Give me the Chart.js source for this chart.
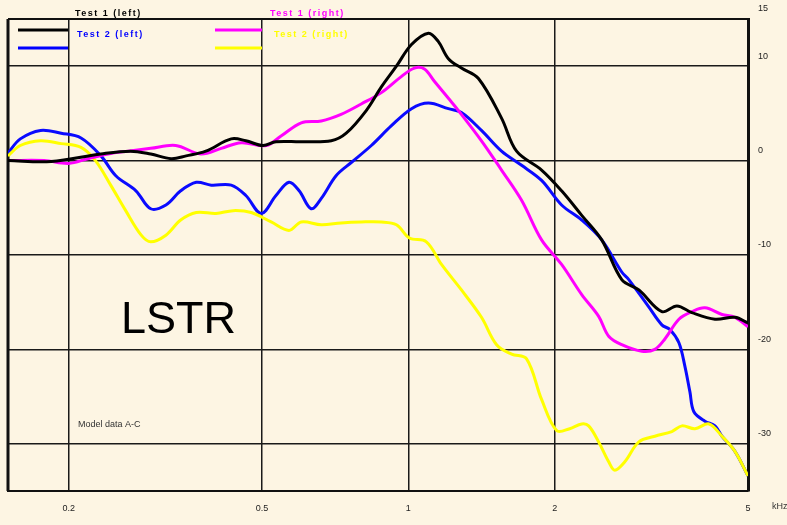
<!DOCTYPE html>
<html>
<head>
<meta charset="utf-8">
<script src="https://cdn.jsdelivr.net/npm/chart.js@4.4.1/dist/chart.umd.min.js"></script>
<style>
  html, body { margin: 0; padding: 0; background: #fdf5e3; }
  #wrap { width: 787px; height: 525px; position: relative; }
</style>
</head>
<body>
<div id="wrap"><canvas id="chart"></canvas></div>
<script>
// frequency (kHz) and level (dB)
const blackKHz = [0.150, 0.184, 0.233, 0.268, 0.295, 0.325, 0.349, 0.383, 0.432, 0.463, 0.502, 0.534, 0.602, 0.694, 0.745, 0.819, 0.880, 0.945, 1.015, 1.100, 1.153, 1.209, 1.286, 1.394, 1.555, 1.670, 1.880, 2.067, 2.274, 2.500, 2.749, 2.981, 3.324, 3.570, 3.833, 4.276, 4.700, 5.0];
const blackDb  = [0.0, -0.1, 0.7, 1.0, 0.7, 0.2, 0.5, 1.0, 2.3, 2.1, 1.6, 2.0, 2.0, 2.1, 2.9, 5.3, 7.8, 10.0, 12.3, 13.5, 12.6, 10.8, 9.8, 8.7, 4.5, 1.0, -1.0, -3.2, -5.8, -8.4, -12.6, -13.7, -16.0, -15.4, -16.1, -16.8, -16.6, -17.2];

const blueKHz = [0.150, 0.159, 0.175, 0.193, 0.212, 0.233, 0.250, 0.275, 0.295, 0.317, 0.340, 0.366, 0.393, 0.432, 0.463, 0.498, 0.534, 0.568, 0.596, 0.631, 0.662, 0.710, 0.763, 0.839, 0.923, 1.015, 1.100, 1.209, 1.286, 1.414, 1.555, 1.710, 1.880, 2.067, 2.274, 2.500, 2.749, 2.842, 3.124, 3.324, 3.453, 3.604, 3.708, 3.797, 3.869, 4.077, 4.276, 4.420, 4.700, 5.0];
const blueDb  = [0.8, 2.3, 3.2, 2.9, 2.4, 0.5, -1.6, -3.2, -5.1, -4.7, -3.2, -2.3, -2.6, -2.6, -3.7, -5.6, -3.7, -2.3, -3.2, -5.1, -4.0, -1.6, -0.2, 1.6, 3.7, 5.5, 6.1, 5.5, 5.1, 3.2, 1.0, -0.5, -2.1, -4.7, -6.3, -8.4, -11.8, -12.6, -15.5, -17.4, -17.9, -19.3, -21.8, -24.5, -26.6, -27.6, -28.1, -29.2, -30.8, -33.4];

const magentaKHz = [0.150, 0.178, 0.200, 0.219, 0.241, 0.265, 0.295, 0.332, 0.374, 0.412, 0.453, 0.510, 0.547, 0.602, 0.662, 0.727, 0.800, 0.880, 0.967, 1.029, 1.079, 1.131, 1.209, 1.268, 1.414, 1.555, 1.710, 1.880, 2.067, 2.274, 2.464, 2.584, 2.749, 3.023, 3.216, 3.372, 3.604, 3.833, 4.077, 4.420, 4.700, 5.0];
const magentaDb  = [0.0, 0.0, -0.3, 0.2, 0.7, 1.0, 1.3, 1.6, 0.7, 1.3, 1.9, 1.6, 2.6, 4.0, 4.2, 4.9, 6.0, 7.2, 8.9, 9.8, 9.7, 8.4, 6.6, 5.3, 2.1, -1.0, -4.2, -8.4, -11.0, -14.2, -16.5, -18.6, -19.5, -20.2, -20.0, -18.9, -16.8, -16.0, -15.6, -16.3, -16.6, -17.6];

const yellowKHz = [0.150, 0.159, 0.175, 0.193, 0.212, 0.227, 0.244, 0.262, 0.282, 0.295, 0.317, 0.340, 0.366, 0.402, 0.436, 0.475, 0.522, 0.568, 0.602, 0.662, 0.727, 0.800, 0.880, 0.945, 1.005, 1.089, 1.170, 1.286, 1.414, 1.519, 1.631, 1.751, 1.880, 2.019, 2.148, 2.274, 2.350, 2.464, 2.584, 2.660, 2.789, 2.981, 3.216, 3.486, 3.656, 3.888, 4.156, 4.420, 4.700, 5.0];
const yellowDb  = [0.5, 1.6, 2.1, 1.8, 1.4, 0.0, -2.6, -5.3, -7.9, -8.6, -7.9, -6.3, -5.5, -5.6, -5.3, -5.5, -6.5, -7.4, -6.5, -6.8, -6.6, -6.5, -6.5, -6.8, -8.2, -8.6, -11.0, -13.7, -16.6, -19.5, -20.5, -21.0, -25.3, -28.6, -28.4, -27.9, -28.1, -29.8, -31.9, -32.8, -31.9, -29.8, -29.2, -28.7, -28.1, -28.4, -27.9, -29.2, -30.8, -33.4];

const seriesNames = ["Test 1 (left)", "Test 2 (left)", "Test 1 (right)", "Test 2 (right)"];
const xTicks = [0.2, 0.5, 1, 2, 5];
const yTicks = [-30, -20, -10, 0, 10, 15];

function pts(xs, ys) {
    return xs.map((x, i) => ({ x: x, y: ys[i] }));
}

function ds(label, xs, ys, color, order) {
    return {
        label: label,
        data: pts(xs, ys),
        borderColor: color,
        borderWidth: 3,
        pointRadius: 0,
        tension: 0.35,
        fill: false,
        order: order
    };
}

const extras = {
    id: "extras",
    beforeDatasetsDraw(chart) {
        const ctx = chart.ctx;
        const a = chart.chartArea;
        ctx.save();
        ctx.strokeStyle = "#111";
        ctx.lineWidth = 2;
        ctx.beginPath();
        ctx.moveTo(a.left, a.top);
        ctx.lineTo(a.right, a.top);
        ctx.stroke();
        ctx.lineWidth = 3;
        ctx.beginPath();
        ctx.moveTo(a.left, a.top);
        ctx.lineTo(a.left, a.bottom);
        ctx.stroke();
        ctx.restore();
    },
    afterDraw(chart) {
        const ctx = chart.ctx;
        ctx.save();
        // legend
        const items = [
            { c: "#000000", x1: 18, x2: 68, y: 30, tx: 75, ty: 14 },
            { c: "#0000ff", x1: 18, x2: 68, y: 48, tx: 77, ty: 35 },
            { c: "#ff00ff", x1: 215, x2: 262, y: 30, tx: 270, ty: 14 },
            { c: "#ffff00", x1: 215, x2: 262, y: 48, tx: 274, ty: 35 }
        ];
        items.forEach((it, i) => {
            ctx.strokeStyle = it.c;
            ctx.lineWidth = 3;
            ctx.beginPath();
            ctx.moveTo(it.x1, it.y);
            ctx.lineTo(it.x2, it.y);
            ctx.stroke();
            ctx.fillStyle = it.c;
            ctx.font = "bold 9px Arial";
            ctx.letterSpacing = "1.5px";
            ctx.textBaseline = "middle";
            ctx.fillText(seriesNames[i], it.tx, it.ty);
        });
        ctx.letterSpacing = "0px";
        ctx.fillStyle = "#000";
        ctx.font = "45px 'Liberation Sans', Arial";
        ctx.textBaseline = "alphabetic";
        ctx.fillText("LSTR", 121, 333);
        ctx.fillStyle = "#333";
        ctx.font = "9px Arial";
        ctx.textBaseline = "middle";
        ctx.fillText("Model data A-C", 78, 425);
        ctx.fillText("kHz", 772, 507);
        ctx.restore();
    }
};

new Chart(document.getElementById("chart"), {
    type: "line",
    data: {
        datasets: [
            ds(seriesNames[0], blackKHz, blackDb, "#000000", 0),
            ds(seriesNames[1], blueKHz, blueDb, "#0a0aff", 2),
            ds(seriesNames[2], magentaKHz, magentaDb, "#ff00ff", 0),
            ds(seriesNames[3], yellowKHz, yellowDb, "#ffff00", 1)
        ]
    },
    options: {
        responsive: true,
        maintainAspectRatio: false,
        animation: false,
        layout: { padding: { top: 19, left: 8, right: 0, bottom: 0 } },
        plugins: { legend: { display: false }, tooltip: { enabled: false } },
        scales: {
            x: {
                type: "logarithmic",
                min: 0.15,
                max: 5,
                afterBuildTicks: s => { s.ticks = xTicks.map(v => ({ value: v })); },
                afterFit: s => { s.height = 34; },
                grid: { color: "#1a1a1a", lineWidth: 1.5, drawTicks: false },
                border: { color: "#111", width: 2 },
                ticks: {
                    color: "#222",
                    font: { size: 9, family: "Arial" },
                    padding: 12,
                    maxRotation: 0,
                    autoSkip: false,
                    callback: v => (v < 1 ? v.toFixed(1) : String(v))
                }
            },
            y: {
                position: "right",
                min: -35,
                max: 15,
                afterBuildTicks: s => { s.ticks = yTicks.map(v => ({ value: v })); },
                afterFit: s => { s.width = 39; },
                grid: { color: "#1a1a1a", lineWidth: 1.5, drawTicks: false },
                border: { color: "#111", width: 3 },
                ticks: {
                    color: "#222",
                    font: { size: 9, family: "Arial" },
                    padding: 10,
                    labelOffset: -10,
                    autoSkip: false
                }
            }
        }
    },
    plugins: [extras]
});
</script>
</body>
</html>
